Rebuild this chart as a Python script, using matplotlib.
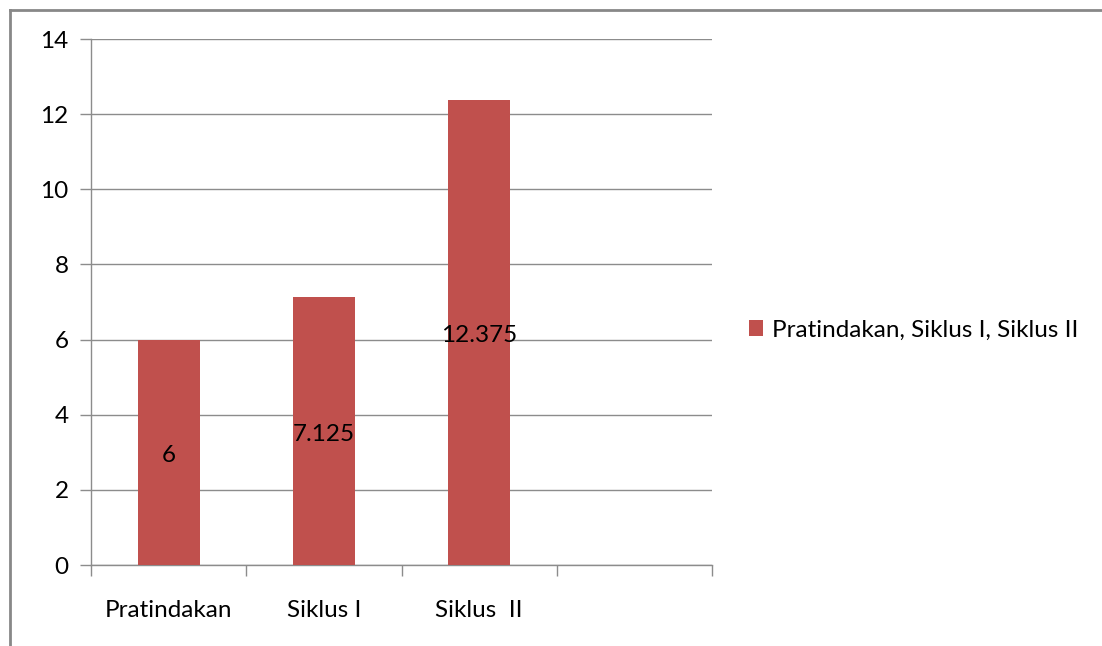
import matplotlib.pyplot as plt
from matplotlib.lines import Line2D

categories = ["Pratindakan", "Siklus I", "Siklus  II", ""]
values = [6, 7.125, 12.375, None]
series_name = "Pratindakan, Siklus I, Siklus II"

bar_color = "#C0504D"
grid_color = "#8c8c8c"
fs = 17.5

plt.rcParams["font.family"] = ["Lato", "DejaVu Sans"]

fig = plt.figure(figsize=(11.02, 6.46), dpi=100)
ax = fig.add_axes([91 / 1102, 1 - 565 / 646, 621 / 1102, 526 / 646])

xs = [i + 0.5 for i, v in enumerate(values) if v is not None]
ys = [v for v in values if v is not None]
bars = ax.bar(xs, ys, width=0.4, color=bar_color, label=series_name, zorder=3)

for x, v in zip(xs, ys):
    ax.text(x, v / 2 - 0.08, f"{v:g}", ha="center", va="center", fontsize=fs, color="black", zorder=4)

ax.set_xlim(0, len(categories))
ax.set_ylim(0, 14)
ax.set_yticks(range(0, 15, 2))
ax.yaxis.grid(True, color=grid_color, linewidth=1, zorder=0)

# category boundaries as major ticks, names centred as minor ticks
ax.set_xticks(range(len(categories) + 1))
ax.set_xticklabels([])
ax.set_xticks([i + 0.5 for i in range(len(categories))], minor=True)
ax.set_xticklabels(categories, minor=True, fontsize=fs)
ax.tick_params(axis="x", which="major", length=8, width=1, color=grid_color, direction="out")
ax.tick_params(axis="x", which="minor", length=0, pad=25)
ax.tick_params(axis="y", length=8, width=1, color=grid_color, labelsize=fs, pad=8)

for side in ["top", "right"]:
    ax.spines[side].set_visible(False)
for side in ["left", "bottom"]:
    ax.spines[side].set_color(grid_color)
    ax.spines[side].set_linewidth(1)

leg = fig.legend(handles=[bars], labels=[series_name], loc="center left",
                 bbox_to_anchor=(727 / 1102, 1 - 330 / 646), frameon=False,
                 fontsize=fs, handlelength=0.6, handleheight=0.6, handletextpad=0.35)

# outer chart border (top and left edges)
fig.add_artist(Line2D([9.5 / 1102, 1.0], [1 - 9.5 / 646] * 2, color="#888888", linewidth=2))
fig.add_artist(Line2D([9.5 / 1102] * 2, [0.0, 1 - 9.5 / 646], color="#888888", linewidth=2))

fig.savefig("out.png", dpi=100)
